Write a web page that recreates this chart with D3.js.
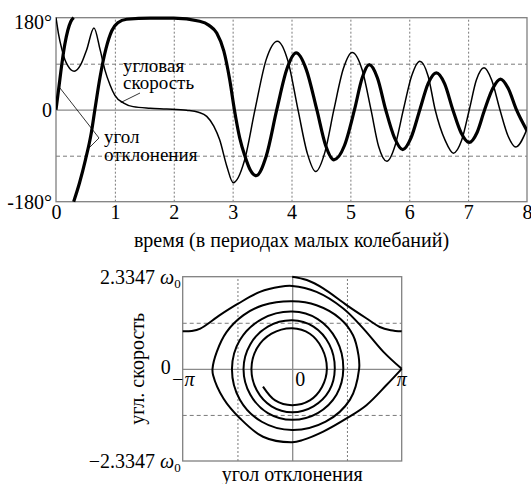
<!DOCTYPE html>
<html>
<head>
<meta charset="utf-8">
<script src="https://cdn.jsdelivr.net/npm/d3@7"></script>
<style>
  body { margin: 0; background: #fff; }
  svg, svg text { font-family: "Liberation Serif", "Times New Roman", Times, serif; fill: #000; }
</style>
</head>
<body>
<svg id="chart"></svg>
<script>
// ---- data ----
const timeTicks = [0, 1, 2, 3, 4, 5, 6, 7, 8];
const timeGrid = [1, 2, 3, 4, 5, 6, 7];
const angleTicks = [-180, 0, 180];
const angleGrid = [-90, 90];

// angle (deg) vs time, thick line; wraps at +180 -> -180
const angleSeg1 = [[0, 0], [0.05, 45], [0.1, 90], [0.15, 128], [0.2, 155], [0.25, 172], [0.3, 180]];
const angleSeg2 = [
  [0.3, -180], [0.4, -143], [0.5, -98], [0.6, -45], [0.66, 0], [0.75, 65], [0.85, 120],
  [0.95, 155], [1.05, 170], [1.2, 177], [1.6, 179], [2.0, 179], [2.44, 173], [2.6, 165],
  [2.73, 150], [2.85, 115], [2.95, 59], [3.03, 0], [3.12, -55], [3.21, -91], [3.3, -118],
  [3.4, -129], [3.57, -91], [3.75, 0], [3.92, 79], [4.08, 111], [4.25, 79], [4.43, 0],
  [4.58, -70], [4.72, -98], [4.9, -70], [5.07, 0], [5.2, 62], [5.32, 88], [5.46, 62],
  [5.6, 0], [5.75, -55], [5.89, -78], [6.03, -55], [6.18, 0], [6.32, 51], [6.46, 72],
  [6.6, 51], [6.74, 0], [6.88, -45], [7.02, -64], [7.15, -45], [7.28, 0], [7.42, 42],
  [7.55, 60], [7.68, 42], [7.82, 0], [8.0, -41]
];
// angular velocity (scaled so 2.3347 w0 = 180), thin line
const velocity = [
  [0, 180], [0.04, 150], [0.1, 118], [0.15, 98], [0.2, 86], [0.31, 75], [0.42, 88],
  [0.52, 117], [0.645, 160], [0.75, 117], [0.83, 78], [0.92, 48], [1.0, 28], [1.15, 13],
  [1.31, 6], [1.6, 3], [1.88, 1.5], [2.22, -1], [2.42, -5], [2.56, -13], [2.68, -32],
  [2.78, -59], [2.9, -110], [3.01, -143], [3.2, -100], [3.38, 0], [3.57, 98], [3.76, 134],
  [3.94, 95], [4.11, 0], [4.27, -86], [4.41, -121], [4.57, -82], [4.72, 0], [4.88, 80],
  [5.03, 112], [5.2, 78], [5.35, 0], [5.48, -72], [5.62, -101], [5.76, -70], [5.9, 0],
  [6.04, 66], [6.18, 95], [6.32, 66], [6.44, 0], [6.61, -60], [6.75, -85], [6.89, -60],
  [7.02, 0], [7.14, 58], [7.27, 82], [7.4, 58], [7.54, 0], [7.68, -52], [7.81, -73],
  [8.0, -38]
];

// phase portrait: [angle deg, velocity in w0]
const phaseMax = 2.3347;
const phaseXTicks = [-180, 0, 180];
const phaseXLabels = ["\u2212\u03c0", "0", "\u03c0"];
const phaseXGrid = [-90, 90];
const phaseYGrid = [-1.1674, 1.1674];
const phaseTop = [[0, 2.3347], [24, 2.25], [51, 2.04], [90, 1.61], [123, 1.27], [144, 1.06], [162, 0.98], [180, 0.95]];
const phaseLoop = [
  [-180, 0.95], [-165, 0.96], [-151, 1.02], [-119, 1.36], [-89, 1.65], [-53, 1.95],
  [-20, 2.08], [0, 2.1], [40, 1.95], [84, 1.53], [117, 1.02], [150, 0.43], [180, 0]
];
const phaseSpiral = [
  [180, 0], [155, -0.41], [122, -0.92], [90, -1.25], [51, -1.59], [18, -1.8], [0, -1.86],
  [-48, -1.72], [-86, -1.25], [-113, -0.75], [-130, -0.16], [-131, 0], [-124, 0.43],
  [-108, 0.93], [-80, 1.36], [-48, 1.61], [0, 1.71], [40, 1.61], [79, 1.27], [100, 0.85],
  [109, 0.34], [110, 0],
  [95, -0.78], [55, -1.34], [0, -1.55], [-50, -1.34], [-86, -0.78], [-99, 0],
  [-86, 0.73], [-50, 1.26], [0, 1.45], [42, 1.26], [73, 0.73], [84, 0],
  [73, -0.65], [42, -1.12], [0, -1.29], [-40, -1.12], [-69, -0.65], [-80, 0],
  [-69, 0.62], [-40, 1.07], [0, 1.23], [35, 1.07], [61, 0.62], [70, 0],
  [61, -0.55], [35, -0.95], [0, -1.1], [-34, -0.95], [-58, -0.55], [-67, 0],
  [-58, 0.52], [-34, 0.89], [0, 1.03], [29, 0.89], [49, 0.52], [57, 0],
  [49, -0.46], [29, -0.8], [0, -0.92], [-28, -0.8], [-48, -0.45]
];

// ---- drawing ----
const width = 531;
const height = 484;
const fontSize = 20;
const noteSize = 19;
const gridColor = "#7a7a7a";

const svg = d3.select("#chart").attr("width", width).attr("height", height)
  .attr("font-family", "Liberation Serif, serif");

const styleAxis = (g) => {
  g.attr("font-family", "Liberation Serif, serif").attr("font-size", fontSize);
  g.select(".domain").remove();
};

// top panel
const tp = { left: 56, right: 527, top: 17.7, bottom: 201.7 };
const x = d3.scaleLinear().domain([0, 8]).range([tp.left, tp.right]);
const y = d3.scaleLinear().domain([-180, 180]).range([tp.bottom, tp.top]);
const gT = svg.append("g");

gT.append("g")
  .attr("transform", `translate(0,${tp.bottom})`)
  .call(d3.axisBottom(x).tickValues(timeGrid).tickSize(-(tp.bottom - tp.top)).tickFormat(""))
  .call(styleAxis)
  .selectAll("line").attr("stroke", gridColor).attr("stroke-dasharray", "2,2");

gT.append("g")
  .attr("transform", `translate(${tp.left},0)`)
  .call(d3.axisLeft(y).tickValues(angleGrid).tickSize(-(tp.right - tp.left)).tickFormat(""))
  .call(styleAxis)
  .selectAll("line").attr("stroke", gridColor).attr("stroke-dasharray", "4,3");

gT.append("g")
  .attr("transform", `translate(${tp.left},0)`)
  .call(d3.axisLeft(y).tickValues([0]).tickSize(-(tp.right - tp.left)).tickFormat(""))
  .call(styleAxis)
  .selectAll("line").attr("stroke", "#8a8a8a").attr("stroke-width", 1.3);

gT.append("rect")
  .attr("x", tp.left).attr("y", tp.top)
  .attr("width", tp.right - tp.left).attr("height", tp.bottom - tp.top)
  .attr("fill", "none").attr("stroke", "#808080").attr("stroke-width", 1.3);

// tick labels
gT.append("g")
  .attr("transform", `translate(0,${tp.bottom})`)
  .call(d3.axisBottom(x).tickValues(timeTicks).tickSize(0).tickPadding(3).tickFormat(d3.format("d")))
  .call(styleAxis);

const yAx = gT.append("g")
  .attr("transform", `translate(${tp.left},0)`)
  .call(d3.axisLeft(y).tickValues(angleTicks).tickSize(0).tickPadding(4)
    .tickFormat((d) => (d === 0 ? "0" : d + "\u00b0")))
  .call(styleAxis);
yAx.selectAll(".tick text").filter((d) => d === 180).attr("dy", "0.55em");

gT.append("text")
  .attr("x", (tp.left + tp.right) / 2).attr("y", 247)
  .attr("text-anchor", "middle").attr("font-size", fontSize)
  .text("время (в периодах малых колебаний)");

gT.append("clipPath").attr("id", "clipTop")
  .append("rect")
  .attr("x", tp.left).attr("y", tp.top - 2)
  .attr("width", tp.right - tp.left).attr("height", tp.bottom - tp.top + 4);

const lineT = d3.line().x((d) => x(d[0])).y((d) => y(d[1])).curve(d3.curveMonotoneX);
const curves = gT.append("g").attr("clip-path", "url(#clipTop)");

curves.append("path").datum(velocity)
  .attr("d", lineT).attr("fill", "none").attr("stroke", "#000").attr("stroke-width", 1.5);

[angleSeg1, angleSeg2].forEach((seg) => {
  curves.append("path").datum(seg)
    .attr("d", lineT).attr("fill", "none").attr("stroke", "#000").attr("stroke-width", 3.2);
});

// annotations: two-line labels as one text each
const note = (x0, y0, lines, gap) => {
  const t = gT.append("text").attr("x", x0).attr("y", y0).attr("font-size", noteSize);
  lines.forEach((s, i) => {
    t.append("tspan").attr("x", x0 + (i ? 0 : 0)).attr("dy", i ? gap : 0).text(s);
  });
};
note(123, 72, ["угловая", "скорость"], 17);
gT.append("line")
  .attr("x1", 140).attr("y1", 93).attr("x2", x(1.1)).attr("y2", y(14))
  .attr("stroke", "#000").attr("stroke-width", 0.8);

note(104, 143, ["угол", "отклонения"], 18);
gT.append("line")
  .attr("x1", 99).attr("y1", 138).attr("x2", x(0.05)).attr("y2", y(45))
  .attr("stroke", "#000").attr("stroke-width", 0.8);
gT.append("line")
  .attr("x1", 99).attr("y1", 138).attr("x2", x(0.56)).attr("y2", y(-75))
  .attr("stroke", "#000").attr("stroke-width", 0.8);

// bottom panel: phase portrait
const bp = { left: 182.7, right: 401.7, top: 276.7, bottom: 461 };
const xp = d3.scaleLinear().domain([-180, 180]).range([bp.left, bp.right]);
const yp = d3.scaleLinear().domain([-phaseMax, phaseMax]).range([bp.bottom, bp.top]);
const gB = svg.append("g");

gB.append("g")
  .attr("transform", `translate(0,${bp.bottom})`)
  .call(d3.axisBottom(xp).tickValues(phaseXGrid).tickSize(-(bp.bottom - bp.top)).tickFormat(""))
  .call(styleAxis)
  .selectAll("line").attr("stroke", gridColor).attr("stroke-dasharray", "2,2");

gB.append("g")
  .attr("transform", `translate(${bp.left},0)`)
  .call(d3.axisLeft(yp).tickValues(phaseYGrid).tickSize(-(bp.right - bp.left)).tickFormat(""))
  .call(styleAxis)
  .selectAll("line").attr("stroke", gridColor).attr("stroke-dasharray", "4,3");

gB.append("g")
  .attr("transform", `translate(${bp.left},0)`)
  .call(d3.axisLeft(yp).tickValues([0]).tickSize(-(bp.right - bp.left)).tickFormat(""))
  .call(styleAxis)
  .selectAll("line").attr("stroke", "#8a8a8a").attr("stroke-width", 1.3);

gB.append("g")
  .attr("transform", `translate(0,${bp.bottom})`)
  .call(d3.axisBottom(xp).tickValues([0]).tickSize(-(bp.bottom - bp.top)).tickFormat(""))
  .call(styleAxis)
  .selectAll("line").attr("stroke", "#8a8a8a").attr("stroke-width", 1.3);

gB.append("rect")
  .attr("x", bp.left).attr("y", bp.top)
  .attr("width", bp.right - bp.left).attr("height", bp.bottom - bp.top)
  .attr("fill", "none").attr("stroke", "#808080").attr("stroke-width", 1.3);

const lineP = d3.line().x((d) => xp(d[0])).y((d) => yp(d[1])).curve(d3.curveCatmullRom.alpha(0.5));
[phaseTop, phaseLoop, phaseSpiral].forEach((seg) => {
  gB.append("path").datum(seg)
    .attr("d", lineP).attr("fill", "none").attr("stroke", "#000").attr("stroke-width", 2);
});

// y labels with omega
const omegaLabel = (val, txt) => {
  const t = gB.append("text")
    .attr("x", bp.left - 2).attr("y", yp(val) + 7)
    .attr("text-anchor", "end").attr("font-size", fontSize);
  t.append("tspan").text(txt + " ");
  t.append("tspan").attr("font-style", "italic").text("\u03c9");
  t.append("tspan").attr("font-size", 13).attr("dy", 4).text("0");
};
omegaLabel(phaseMax, "2.3347");
omegaLabel(-phaseMax, "\u22122.3347");

gB.append("text")
  .attr("x", bp.left - 12).attr("y", yp(0) + 5)
  .attr("text-anchor", "end").attr("font-size", fontSize).text("0");

// x tick labels sit under the zero line
gB.selectAll(".xlab").data(phaseXTicks).enter().append("text")
  .attr("class", "xlab")
  .attr("x", (d, i) => xp(d) + [0, 8, 0][i])
  .attr("y", yp(0) + 17)
  .attr("text-anchor", "middle").attr("font-size", fontSize)
  .attr("font-style", (d, i) => (i === 1 ? null : "italic"))
  .text((d, i) => phaseXLabels[i]);

gB.append("text")
  .attr("transform", `translate(144,${(bp.top + bp.bottom) / 2}) rotate(-90)`)
  .attr("text-anchor", "middle").attr("font-size", fontSize)
  .text("угл. скорость");

gB.append("text")
  .attr("x", (bp.left + bp.right) / 2).attr("y", 481)
  .attr("text-anchor", "middle").attr("font-size", fontSize)
  .text("угол отклонения");
</script>
</body>
</html>
